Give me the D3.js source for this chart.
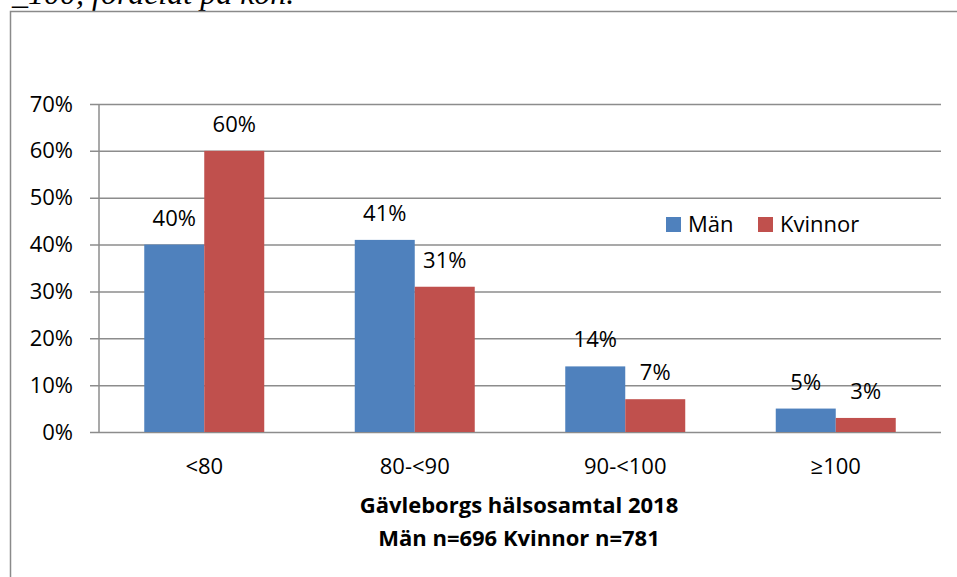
<!DOCTYPE html>
<html>
<head>
<meta charset="utf-8">
<script src="https://cdn.jsdelivr.net/npm/d3@7"></script>
<style>
  html, body { margin: 0; padding: 0; background: #fff; }
  svg { display: block; }
</style>
</head>
<body>
<svg id="chart" width="957" height="577"></svg>
<script>
// Age-group categories and share per sex
const categories = ["<80", "80-<90", "90-<100", "≥100"];
const series = ["Män", "Kvinnor"];
const manValues = [0.40, 0.41, 0.14, 0.05];
const kvinnorValues = [0.60, 0.31, 0.07, 0.03];
const yTicks = [0, 0.1, 0.2, 0.3, 0.4, 0.5, 0.6, 0.7];
const colors = ["#4f81bd", "#c0504d"];
const titleLines = ["Gävleborgs hälsosamtal 2018", "Män n=696 Kvinnor n=781"];
const captionText = "_100, fördelat på kön.";

const font = "'Open Sans', Lato, sans-serif";
const svg = d3.select("#chart");

// Caption line above the frame (runs off the top edge)
svg.append("text")
  .attr("x", 12).attr("y", 4)
  .attr("font-family", "'Liberation Serif', serif")
  .attr("font-style", "italic")
  .attr("font-size", 32)
  .attr("fill", "#000")
  .text(captionText);

// Chart frame (left and top edges)
svg.append("path")
  .attr("d", "M10.5,577 V11.5 H957")
  .attr("fill", "none")
  .attr("stroke", "#8a8a8a")
  .attr("stroke-width", 1.5);

const plot = { left: 99, right: 941, top: 104, bottom: 432 };

const y = d3.scaleLinear().domain([0, 0.7]).range([plot.bottom, plot.top]);
const x0 = d3.scaleBand().domain(categories)
  .range([plot.left, plot.right])
  .paddingInner(0.43).paddingOuter(0.215);
const x1 = d3.scaleBand().domain(series).range([0, x0.bandwidth()]);

// Horizontal gridlines with tick stubs
const yAxis = d3.axisLeft(y)
  .tickValues(yTicks)
  .tickSize(-(plot.right - plot.left))
  .tickFormat(d3.format(".0%"))
  .tickPadding(26);

const gy = svg.append("g")
  .attr("transform", `translate(${plot.left},0)`)
  .call(yAxis);
gy.select(".domain").remove();
gy.selectAll(".tick line")
  .attr("x1", -9)
  .attr("stroke", "#8c8c8c")
  .attr("stroke-width", 1.5);
gy.selectAll(".tick text")
  .attr("font-family", font)
  .attr("font-size", 22)
  .attr("fill", "#000");

// Vertical value axis line
svg.append("line")
  .attr("x1", plot.left).attr("x2", plot.left)
  .attr("y1", plot.top).attr("y2", plot.bottom)
  .attr("stroke", "#8c8c8c").attr("stroke-width", 1.5);

// Category labels
const xAxis = d3.axisBottom(x0).tickSize(0).tickPadding(26);
const gx = svg.append("g")
  .attr("transform", `translate(0,${plot.bottom})`)
  .call(xAxis);
gx.select(".domain").remove();
gx.selectAll(".tick text")
  .attr("font-family", font)
  .attr("font-size", 22)
  .attr("fill", "#000");

// Bars
const rows = categories.map((c, i) => ({
  cat: c,
  vals: [
    { key: series[0], v: manValues[i], color: colors[0] },
    { key: series[1], v: kvinnorValues[i], color: colors[1] }
  ]
}));

const groups = svg.append("g").selectAll("g")
  .data(rows).join("g")
  .attr("transform", d => `translate(${x0(d.cat)},0)`);

groups.selectAll("rect")
  .data(d => d.vals).join("rect")
  .attr("x", d => x1(d.key))
  .attr("y", d => y(d.v))
  .attr("width", x1.bandwidth())
  .attr("height", d => y(0) - y(d.v))
  .attr("fill", d => d.color);

groups.selectAll("text")
  .data(d => d.vals).join("text")
  .attr("x", d => x1(d.key) + x1.bandwidth() / 2)
  .attr("y", d => y(d.v) - 19)
  .attr("text-anchor", "middle")
  .attr("font-family", font)
  .attr("font-size", 22)
  .attr("fill", "#000")
  .text(d => d3.format(".0%")(d.v));

// Legend
const legend = svg.append("g").attr("transform", "translate(666,217)");
const legendX = [0, 92];
series.forEach((s, i) => {
  legend.append("rect")
    .attr("x", legendX[i]).attr("y", 0)
    .attr("width", 15).attr("height", 15)
    .attr("fill", colors[i]);
  legend.append("text")
    .attr("x", legendX[i] + 22).attr("y", 15)
    .attr("font-family", font)
    .attr("font-size", 22)
    .attr("fill", "#000")
    .text(s);
});

// Axis title (two lines)
svg.append("g").selectAll("text")
  .data(titleLines).join("text")
  .attr("x", (plot.left + plot.right) / 2 - 1)
  .attr("y", (d, i) => 513 + i * 33)
  .attr("text-anchor", "middle")
  .attr("font-family", font)
  .attr("font-weight", "bold")
  .attr("font-size", 22)
  .attr("fill", "#000")
  .text(d => d);
</script>
</body>
</html>
